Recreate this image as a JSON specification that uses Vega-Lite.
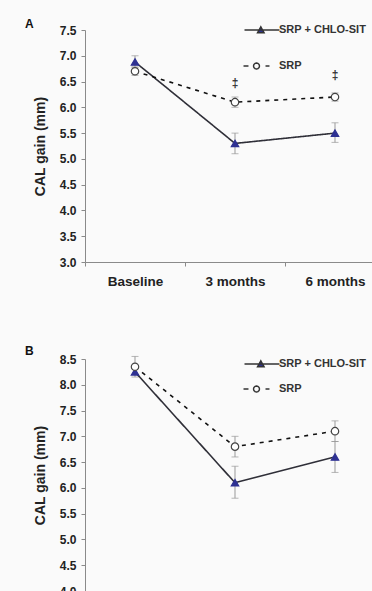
{
  "$schema": "https://vega.github.io/schema/vega-lite/v6.json",
  "background": "#fafafa",
  "padding": {"left": 25, "top": 18, "right": 0, "bottom": 0},
  "config": {
    "view": {"stroke": null},
    "font": "Liberation Sans",
    "axis": {"grid": false, "domainColor": "#8a8a8a", "tickColor": "#8a8a8a", "labelColor": "#222", "titleColor": "#222", "labelFontWeight": "bold", "titleFontWeight": "bold", "labelOverlap": false},
    "axisY": {"format": ".1f", "labelFlush": false, "labelOverlap": false},
    "legend": {"labelFontWeight": "bold", "labelFontSize": 11, "labelColor": "#333", "padding": 0}
  },
  "datasets": {
    "a": [
      {"time": "Baseline", "group": "SRP + CHLO-SIT", "mean": 6.88, "lo": 6.78, "hi": 7.0},
      {"time": "3 months", "group": "SRP + CHLO-SIT", "mean": 5.3, "lo": 5.1, "hi": 5.5},
      {"time": "6 months", "group": "SRP + CHLO-SIT", "mean": 5.5, "lo": 5.32, "hi": 5.7},
      {"time": "Baseline", "group": "SRP", "mean": 6.7, "lo": 6.62, "hi": 6.78},
      {"time": "3 months", "group": "SRP", "mean": 6.1, "lo": 6.0, "hi": 6.2},
      {"time": "6 months", "group": "SRP", "mean": 6.2, "lo": 6.12, "hi": 6.28}
    ],
    "b": [
      {"time": "Baseline", "group": "SRP + CHLO-SIT", "mean": 8.25, "lo": 8.15, "hi": 8.32},
      {"time": "3 months", "group": "SRP + CHLO-SIT", "mean": 6.1, "lo": 5.8, "hi": 6.42},
      {"time": "6 months", "group": "SRP + CHLO-SIT", "mean": 6.6, "lo": 6.3, "hi": 6.9},
      {"time": "Baseline", "group": "SRP", "mean": 8.35, "lo": 8.2, "hi": 8.55},
      {"time": "3 months", "group": "SRP", "mean": 6.8, "lo": 6.6, "hi": 7.0},
      {"time": "6 months", "group": "SRP", "mean": 7.1, "lo": 6.9, "hi": 7.3}
    ],
    "sigA": [
      {"time": "3 months", "mark": "‡", "pos": 6.47},
      {"time": "6 months", "mark": "‡", "pos": 6.63}
    ]
  },
  "spacing": 57,
  "resolve": {"legend": {"strokeDash": "independent"}, "scale": {"y": "independent"}},
  "vconcat": [
    {
      "title": {"text": "A", "anchor": "start", "frame": "group", "dx": -60, "fontSize": 12, "fontWeight": "bold", "color": "#111", "offset": -12},
      "width": 300,
      "height": 232,
      "data": {"name": "a"},
      "encoding": {
        "x": {"field": "time", "type": "nominal", "sort": ["Baseline", "3 months", "6 months"], "scale": {"type": "band", "paddingInner": 0, "paddingOuter": 0},
          "axis": {"title": null, "labelAngle": 0, "labelFontSize": 13.5, "labelPadding": 8, "tickSize": 4, "tickOffset": -50, "labelOffset": 50}}
      },
      "layer": [
        {"mark": {"type": "rule", "color": "#999", "strokeWidth": 1},
          "encoding": {"y": {"field": "lo", "type": "quantitative", "scale": {"domain": [3, 7.5], "nice": false},
            "axis": {"title": "CAL gain (mm)", "titleFontSize": 14, "titlePadding": 12, "values": [3, 3.5, 4, 4.5, 5, 5.5, 6, 6.5, 7, 7.5], "tickCount": 10, "labelFontSize": 12, "tickSize": 4, "labelPadding": 5, "labelOverlap": false}},
            "y2": {"field": "hi"}}},
        {"mark": {"type": "tick", "color": "#999", "size": 7, "thickness": 1}, "encoding": {"y": {"field": "lo", "type": "quantitative"}}},
        {"mark": {"type": "tick", "color": "#999", "size": 7, "thickness": 1}, "encoding": {"y": {"field": "hi", "type": "quantitative"}}},
        {"mark": {"type": "line", "strokeWidth": 1.6},
          "encoding": {
            "y": {"field": "mean", "type": "quantitative"},
            "detail": {"field": "group"},
            "color": {"field": "group", "type": "nominal", "scale": {"domain": ["SRP + CHLO-SIT", "SRP"], "range": ["#2f2f38", "#111111"]}, "legend": null},
            "strokeDash": {"field": "group", "type": "nominal", "scale": {"domain": ["SRP + CHLO-SIT", "SRP"], "range": [[1, 0], [4, 5]]},
              "legend": {"title": null, "orient": "none", "legendX": 166, "legendY": -11, "symbolSize": 400, "labelOffset": 6, "rowPadding": 19,
                "encode": {"symbols": {"update": {
                  "shape": {"signal": "datum.value === 'SRP' ? 'M-1.8,0L-1.4,0M0.4,0L0.7,0M-0.25,0L-0.29,0.15M-0.29,0.15L-0.4,0.26M-0.4,0.26L-0.55,0.3M-0.55,0.3L-0.7,0.26M-0.7,0.26L-0.81,0.15M-0.81,0.15L-0.85,0M-0.85,0L-0.81,-0.15M-0.81,-0.15L-0.7,-0.26M-0.7,-0.26L-0.55,-0.3M-0.55,-0.3L-0.4,-0.26M-0.4,-0.26L-0.29,-0.15M-0.29,-0.15L-0.25,0' : 'M-1.7,0L1.7,0M-0.45,0.28L-0.12,-0.32L0.21,0.28Z'"},
                  "fill": {"signal": "datum.value === 'SRP' ? '#ffffff' : '#2e3192'"},
                  "stroke": {"value": "#333"},
                  "strokeWidth": {"value": 1.4},
                  "strokeCap": {"value": "round"},
                  "opacity": {"value": 1},
                  "size": {"value": 400}}}}}}
          }},
        {"mark": {"type": "point", "filled": true, "strokeWidth": 1.2, "opacity": 1},
          "encoding": {
            "y": {"field": "mean", "type": "quantitative"},
            "shape": {"field": "group", "type": "nominal", "scale": {"domain": ["SRP + CHLO-SIT", "SRP"], "range": ["triangle-up", "circle"]}, "legend": null},
            "fill": {"field": "group", "type": "nominal", "scale": {"domain": ["SRP + CHLO-SIT", "SRP"], "range": ["#2e3192", "#ffffff"]}, "legend": null},
            "stroke": {"field": "group", "type": "nominal", "scale": {"domain": ["SRP + CHLO-SIT", "SRP"], "range": ["#2e3192", "#444444"]}, "legend": null},
            "size": {"value": 55}
          }},
        {"data": {"name": "sigA"}, "mark": {"type": "text", "fontSize": 12, "fontWeight": "bold", "color": "#333"},
          "encoding": {"y": {"field": "pos", "type": "quantitative"}, "text": {"field": "mark"}}}
      ]
    },
    {
      "title": {"text": "B", "anchor": "start", "frame": "group", "dx": -60, "dy": 5, "fontSize": 12, "fontWeight": "bold", "color": "#111", "offset": 0},
      "width": 300,
      "height": 232,
      "data": {"name": "b"},
      "encoding": {
        "x": {"field": "time", "type": "nominal", "sort": ["Baseline", "3 months", "6 months"], "scale": {"type": "band", "paddingInner": 0, "paddingOuter": 0},
          "axis": {"title": null, "labelAngle": 0, "labelFontSize": 13.5, "labelPadding": 8, "tickSize": 4, "tickOffset": -50, "labelOffset": 50}}
      },
      "layer": [
        {"mark": {"type": "rule", "color": "#999", "strokeWidth": 1},
          "encoding": {"y": {"field": "lo", "type": "quantitative", "scale": {"domain": [4, 8.5], "nice": false},
            "axis": {"title": "CAL gain (mm)", "titleFontSize": 14, "titlePadding": 12, "values": [4, 4.5, 5, 5.5, 6, 6.5, 7, 7.5, 8, 8.5], "tickCount": 10, "labelFontSize": 12, "tickSize": 4, "labelPadding": 5, "labelOverlap": false}},
            "y2": {"field": "hi"}}},
        {"mark": {"type": "tick", "color": "#999", "size": 7, "thickness": 1}, "encoding": {"y": {"field": "lo", "type": "quantitative"}}},
        {"mark": {"type": "tick", "color": "#999", "size": 7, "thickness": 1}, "encoding": {"y": {"field": "hi", "type": "quantitative"}}},
        {"mark": {"type": "line", "strokeWidth": 1.6},
          "encoding": {
            "y": {"field": "mean", "type": "quantitative"},
            "detail": {"field": "group"},
            "color": {"field": "group", "type": "nominal", "scale": {"domain": ["SRP + CHLO-SIT", "SRP"], "range": ["#2f2f38", "#111111"]}, "legend": null},
            "strokeDash": {"field": "group", "type": "nominal", "scale": {"domain": ["SRP + CHLO-SIT", "SRP"], "range": [[1, 0], [4, 5]]},
              "legend": {"title": null, "orient": "none", "legendX": 166, "legendY": -6, "symbolSize": 400, "labelOffset": 6, "rowPadding": 8,
                "encode": {"symbols": {"update": {
                  "shape": {"signal": "datum.value === 'SRP' ? 'M-1.8,0L-1.4,0M0.4,0L0.7,0M-0.25,0L-0.29,0.15M-0.29,0.15L-0.4,0.26M-0.4,0.26L-0.55,0.3M-0.55,0.3L-0.7,0.26M-0.7,0.26L-0.81,0.15M-0.81,0.15L-0.85,0M-0.85,0L-0.81,-0.15M-0.81,-0.15L-0.7,-0.26M-0.7,-0.26L-0.55,-0.3M-0.55,-0.3L-0.4,-0.26M-0.4,-0.26L-0.29,-0.15M-0.29,-0.15L-0.25,0' : 'M-1.7,0L1.7,0M-0.45,0.28L-0.12,-0.32L0.21,0.28Z'"},
                  "fill": {"signal": "datum.value === 'SRP' ? '#ffffff' : '#2e3192'"},
                  "stroke": {"value": "#333"},
                  "strokeWidth": {"value": 1.4},
                  "strokeCap": {"value": "round"},
                  "opacity": {"value": 1},
                  "size": {"value": 400}}}}}}
          }},
        {"mark": {"type": "point", "filled": true, "strokeWidth": 1.2, "opacity": 1},
          "encoding": {
            "y": {"field": "mean", "type": "quantitative"},
            "shape": {"field": "group", "type": "nominal", "scale": {"domain": ["SRP + CHLO-SIT", "SRP"], "range": ["triangle-up", "circle"]}, "legend": null},
            "fill": {"field": "group", "type": "nominal", "scale": {"domain": ["SRP + CHLO-SIT", "SRP"], "range": ["#2e3192", "#ffffff"]}, "legend": null},
            "stroke": {"field": "group", "type": "nominal", "scale": {"domain": ["SRP + CHLO-SIT", "SRP"], "range": ["#2e3192", "#444444"]}, "legend": null},
            "size": {"value": 55}
          }}
      ]
    }
  ]
}
